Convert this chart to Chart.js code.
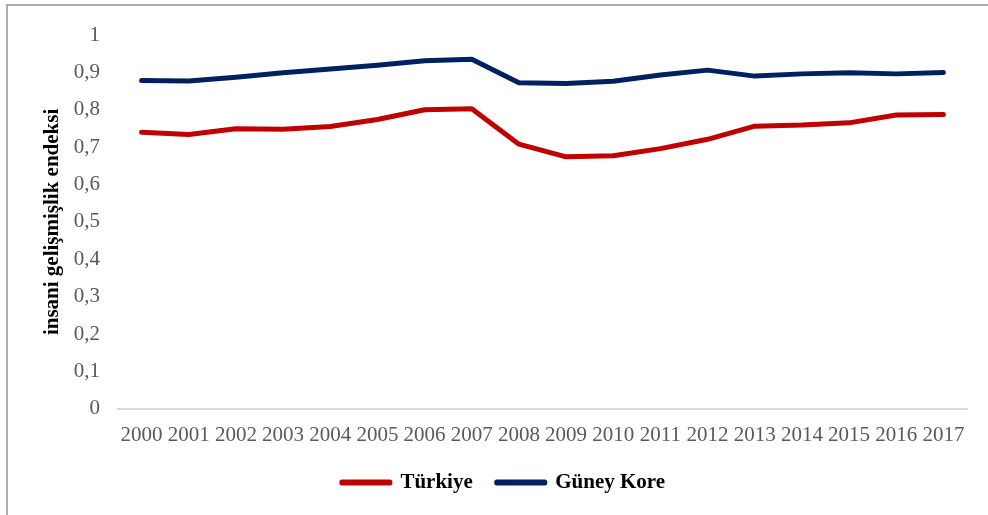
<!DOCTYPE html>
<html>
<head>
<meta charset="utf-8">
<script src="https://cdn.jsdelivr.net/npm/chart.js@4"></script>
<style>
  html, body { margin: 0; padding: 0; background: #fff; }
  #wrap { position: relative; width: 988px; height: 515px; overflow: hidden; }
  #frame { position: absolute; left: 6px; top: 4px; width: 1000px; height: 520px;
           border-top: 2px solid #acacac; border-left: 2px solid #acacac; }
  #c { position: absolute; left: 0; top: 0; }
</style>
</head>
<body>
<div id="wrap">
  <div id="frame"></div>
  <canvas id="c" width="988" height="515"></canvas>
</div>
<script>
const years = ['2000','2001','2002','2003','2004','2005','2006','2007','2008','2009',
               '2010','2011','2012','2013','2014','2015','2016','2017'];
const turkiye = [0.740, 0.734, 0.749, 0.748, 0.755, 0.774, 0.800, 0.803, 0.708, 0.674,
                 0.677, 0.696, 0.721, 0.756, 0.759, 0.765, 0.786, 0.787];
const guneyKore = [0.878, 0.877, 0.887, 0.899, 0.909, 0.919, 0.931, 0.935, 0.872, 0.870,
                   0.876, 0.893, 0.906, 0.890, 0.896, 0.899, 0.896, 0.900];
const yTitle = 'insani gelişmişlik endeksi';

const serif = '"Liberation Serif", "Times New Roman", serif';

new Chart(document.getElementById('c'), {
  type: 'line',
  data: {
    labels: years,
    datasets: [
      { label: 'Türkiye', data: turkiye, borderColor: '#c00000', backgroundColor: '#c00000',
        borderWidth: 5, pointRadius: 0, tension: 0, borderCapStyle: 'round', borderJoinStyle: 'round' },
      { label: 'Güney Kore', data: guneyKore, borderColor: '#002060', backgroundColor: '#002060',
        borderWidth: 5, pointRadius: 0, tension: 0, borderCapStyle: 'round', borderJoinStyle: 'round' }
    ]
  },
  options: {
    responsive: false,
    animation: false,
    layout: { padding: { left: 40, right: 21, top: 35, bottom: 12 } },
    plugins: {
      tooltip: { enabled: false },
      legend: {
        position: 'bottom',
        labels: {
          boxWidth: 48, boxHeight: 1, padding: 24, color: '#000',
          font: { family: serif, size: 21, weight: 'bold' }
        }
      }
    },
    scales: {
      x: {
        offset: true,
        grid: { display: false, drawTicks: false },
        border: { color: '#d9d9d9', width: 2 },
        ticks: { color: '#595959', padding: 14, maxRotation: 0, autoSkip: false,
                 font: { family: serif, size: 21 } },
        // let the labels sit closer to the legend, as in the original
        afterFit: s => { s.height -= 14; }
      },
      y: {
        min: 0, max: 1,
        grid: { display: false, drawTicks: false },
        border: { display: false },
        ticks: {
          stepSize: 0.1, color: '#595959', padding: 18,
          font: { family: serif, size: 21 },
          callback: v => (Math.round(v * 10) / 10).toString().replace('.', ',')
        },
        title: { display: true, text: yTitle, color: '#000', padding: { top: 0, bottom: 8 },
                 font: { family: serif, size: 21, weight: 'bold' } },
        afterFit: s => { s.width = 78; }
      }
    }
  }
});
</script>
</body>
</html>
